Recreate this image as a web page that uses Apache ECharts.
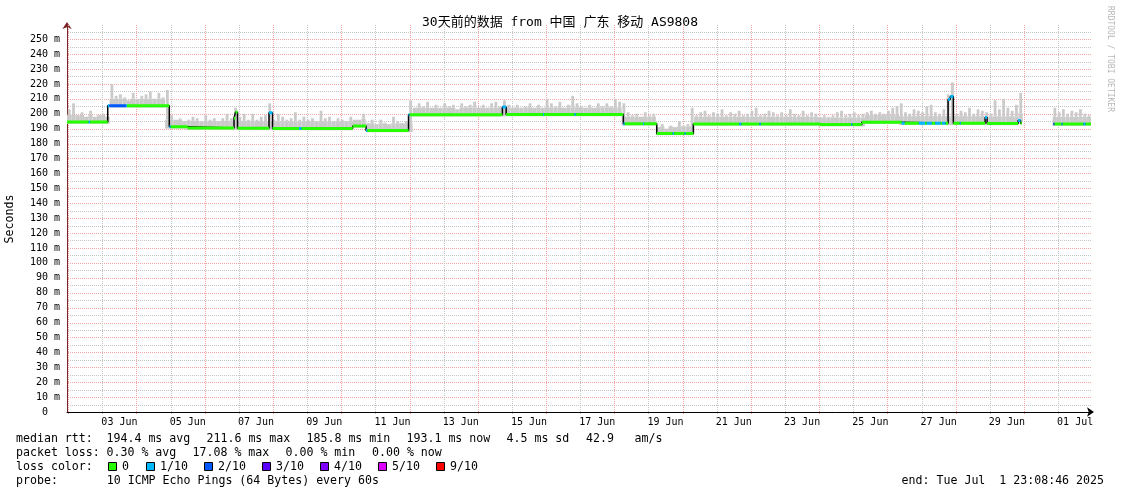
<!DOCTYPE html>
<html>
<head>
<meta charset="utf-8">
<script src="https://cdn.jsdelivr.net/npm/echarts@6/dist/echarts.min.js"></script>
<style>
html,body{margin:0;padding:0;background:#ffffff;}
#chart{width:1121px;height:494px;}
</style>
</head>
<body>
<div id="chart"></div>
<script>
// ---------- time frame (day 0 = Jun 1 00:00) ----------
const START_DAY = 0.964;   // Jun 1 23:08:46
const END_DAY = 30.964;    // Jul 1 23:08:46
const SMOKE_STEP = 0.125;  // 3 hours per smoke sample

// ---------- axis ticks / labels ----------
const minorDayTicks = [2,4,6,8,10,12,14,16,18,20,22,24,26,28,30];
const majorDayTicks = [1,3,5,7,9,11,13,15,17,19,21,23,25,27,29];
const labelDays = [2.5,4.5,6.5,8.5,10.5,12.5,14.5,16.5,18.5,20.5,22.5,24.5,26.5,28.5,30.5];
const labelTexts = ['03 Jun','05 Jun','07 Jun','09 Jun','11 Jun','13 Jun','15 Jun','17 Jun','19 Jun','21 Jun','23 Jun','25 Jun','27 Jun','29 Jun','01 Jul'];
const yMinorTicks = [5,15,25,35,45,55,65,75,85,95,105,115,125,135,145,155,165,175,185,195,205,215,225,235,245,255];
const yMajorTicks = [10,20,30,40,50,60,70,80,90,100,110,120,130,140,150,160,170,180,190,200,210,220,230,240,250];
const yLabelValues = [0,10,20,30,40,50,60,70,80,90,100,110,120,130,140,150,160,170,180,190,200,210,220,230,240,250];

// ---------- median rtt (ms), step levels starting at medT ----------
const medT = [0.964, 2.157, 3.961, 4.50, 5.857, 5.90, 5.96, 6.882, 6.985, 9.335, 9.725, 10.97, 13.72, 13.83, 17.264, 18.242, 19.314, 23.027, 24.248, 25.421, 26.777, 26.84, 26.932, 27.861, 27.92, 28.828, 28.90, 28.936, 29.862];
const medV = [194.5, 205.3, 191.2, 190.4, 197.0, 201.0, 190.2, 200.6, 190.1, 191.8, 188.8, 199.4, 204.5, 199.5, 193.3, 186.8, 193.2, 192.7, 194.3, 193.6, 209.5, 211.6, 193.6, 197.5, 193.5, 195.5, 193.6, null, 193.1];

// ---------- packet loss spans (class = lost pings out of 10) ----------
const lossStart = [1.60, 2.157, 2.204, 2.69, 3.961, 6.882, 7.76, 9.725, 10.97, 13.72, 14.91, 15.83, 17.264, 17.84, 18.71, 19.06, 20.66, 21.25, 23.94, 25.42, 25.92, 26.15, 26.40, 26.60, 26.777, 27.12, 27.861, 28.828, 29.862, 30.10, 30.74];
const lossEnd   = [1.64, 2.204, 2.69, 2.72, 4.00, 6.985, 7.83, 9.76, 11.00, 13.83, 14.94, 15.87, 17.30, 17.87, 18.75, 19.09, 20.72, 21.29, 23.97, 25.50, 26.10, 26.30, 26.55, 26.70, 26.932, 27.15, 27.92, 28.90, 29.89, 30.13, 30.80];
const lossClass = [1, 1, 2, 1, 1, 1, 1, 1, 1, 1, 1, 1, 1, 1, 1, 1, 1, 1, 1, 1, 1, 1, 1, 1, 1, 1, 1, 1, 2, 1, 1];

// ---------- smoke: highest ping per 3h sample (ms) ----------
const smokeTop = [
  203,207,199,201,198,202,198,199,200,198,
  220,212,213,211,209,214,210,212,213,215,210,214,211,216,
  199,196,197,195,196,198,197,195,199,196,197,195,197,200,197,204,
  198,200,196,200,196,198,199,207,
  196,200,198,196,197,201,196,198,196,197,195,202,197,198,195,197,196,195,198,196,
  196,200,194,196,193,196,194,193,198,195,194,195,
  209,204,207,205,208,204,206,204,207,205,206,203,207,205,206,208,204,206,204,207,208,205,209,206,204,206,204,
  205,207,204,206,204,210,207,205,208,204,206,212,207,205,204,206,204,207,205,207,205,210,208,207,
  201,199,200,198,201,199,200,
  191,193,190,192,191,195,192,193,
  204,199,201,202,199,201,200,203,199,201,200,202,199,
  200,202,204,199,200,202,201,199,201,199,203,200,199,202,199,201,200,
  198,199,198,199,201,202,199,200,201,199,
  200,201,202,200,201,200,202,204,205,207,
  201,200,203,202,201,205,206,201,200,203,213,221,
  200,202,201,204,200,203,202,201,200,209,203,210,204,202,206,214,
  null,null,null,null,null,null,null,
  204,201,203,200,202,201,203,200,199
];

// ---------- legend / footer texts ----------
const rttFields = ['median rtt:', '194.4 ms avg', '211.6 ms max', '185.8 ms min', '193.1 ms now', '4.5 ms sd', '42.9', 'am/s'];
const lossFields = ['packet loss:', '0.30 % avg', '17.08 % max', '0.00 % min', '0.00 % now'];
const lossColors = ['#26ff00','#00b8ff','#0059ff','#5e00ff','#7e00ff','#dd00ff','#ff0000'];
const lossLabels = ['0','1/10','2/10','3/10','4/10','5/10','9/10'];

const SMOKE = '#cacaca';
const MONO = '"DejaVu Sans Mono", "Noto Sans CJK SC", monospace';
const FOOT = '11.6px ' + MONO;
const GRID_GRAY = '#c6c6c6';
const GRID_PINK = '#f5a3a3';

// ---------- helpers ----------
function medAt(t){
  let v = null;
  for (let i = 0; i < medT.length; i++){ if (medT[i] <= t) v = medV[i]; else break; }
  return v;
}
function lossAt(t){
  for (let i = 0; i < lossStart.length; i++){ if (t >= lossStart[i] && t < lossEnd[i]) return lossClass[i]; }
  return 0;
}

// smoke columns
const smokeData = [];
smokeTop.forEach((top, k) => {
  if (top == null) return;
  const t0 = START_DAY + k*SMOKE_STEP, t1 = t0 + SMOKE_STEP;
  const cands = [medAt(t0), medAt(t1 - 1e-6)].filter(v => v != null);
  if (!cands.length) return;
  const low = Math.min(...cands) - 1.2;
  const band = Math.min(top, low + 6);
  smokeData.push([t0, t1, low, band, top]);
});

// black step line of the median
const blackData = [];
for (let i = 0; i < medT.length; i++){
  const t1 = i + 1 < medT.length ? medT[i+1] : END_DAY;
  if (medV[i] == null){ blackData.push([medT[i], null]); continue; }
  blackData.push([medT[i], medV[i]], [t1, medV[i]]);
}

// coloured median pieces by loss class
const bset = new Set([...medT, END_DAY, ...lossStart, ...lossEnd]);
const bounds = [...bset].filter(t => t >= START_DAY && t <= END_DAY).sort((a,b)=>a-b);
const runs = [];
let prev = null;
for (let i = 0; i < bounds.length - 1; i++){
  const a = bounds[i], b = bounds[i+1], mid = (a+b)/2;
  const v = medAt(mid);
  if (v == null){ if (prev){ runs.push(prev); prev = null; } continue; }
  const c = lossAt(mid);
  if (prev && prev.c === c && prev.v === v && prev.b === a){ prev.b = b; }
  else { if (prev) runs.push(prev); prev = {a, b, v, c}; }
}
if (prev) runs.push(prev);
const classSeries = [[],[],[]];
runs.forEach(r => { classSeries[r.c].push([r.a, r.v], [r.b, r.v], [r.b, null]); });

// vertical dotted grid lines, built from 1px dots placed through the x scale
function vGrid(days, color, name){
  return {
    type: 'custom', name, silent: true, z: 1, clip: false,
    data: days.map(d => [d, 100]), encode: { x: 0, y: 1 },
    renderItem: (params, api) => {
      const cs = params.coordSys;
      const x = Math.round(api.coord([api.value(0), 100])[0]);
      const top = Math.round(cs.y), bottom = Math.round(cs.y + cs.height) + 3;
      const children = [];
      for (let yy = top; yy < bottom; yy += 2){
        children.push({ type: 'rect', shape: { x: x, y: yy, width: 1, height: 1 }, style: { fill: color } });
      }
      return { type: 'group', children };
    }
  };
}
// horizontal dotted grid lines
function hGrid(vals, color, name){
  return {
    type: 'custom', name, silent: true, z: 1, clip: false,
    data: vals.map(v => [10, v]), encode: { x: 0, y: 1 },
    renderItem: (params, api) => {
      const cs = params.coordSys;
      const y = Math.round(api.coord([10, api.value(1)])[1]) + 0.5;
      return { type: 'line', shape: { x1: cs.x + 1, y1: y, x2: cs.x + cs.width, y2: y },
               style: { stroke: color, lineWidth: 1, lineDash: [1, 1] } };
    }
  };
}

const chart = echarts.init(document.getElementById('chart'), null, {renderer:'canvas'});

const option = {
  animation: false,
  backgroundColor: '#ffffff',
  grid: { left: 67, right: 30, top: 25, bottom: 82, containLabel: false, outerBoundsMode: 'none' },
  xAxis: {
    type: 'value', min: START_DAY, max: END_DAY, position: 'bottom',
    axisLine: { show: true, onZero: false, symbol: ['none','arrow'], symbolSize: [7,7], symbolOffset: [0, 3],
                lineStyle: { color: '#000000', width: 1 } },
    axisTick: { show: false },
    splitLine: { show: false },
    axisLabel: { show: true, customValues: labelDays, margin: 5, fontSize: 10, fontFamily: MONO, color: '#000',
                 formatter: v => labelTexts[Math.round((v - 2.5)/2)] || '' }
  },
  yAxis: {
    type: 'value', min: 0, max: 259.5, position: 'left',
    axisLine: { show: true, onZero: false, symbol: ['none','arrow'], symbolSize: [7,7], symbolOffset: [0, 3],
                lineStyle: { color: '#7a2626', width: 1 } },
    axisTick: { show: false },
    splitLine: { show: false },
    axisLabel: { show: true, customValues: yLabelValues, margin: 7, fontSize: 10, fontFamily: MONO, color: '#000',
                 formatter: v => v === 0 ? '0  ' : v + ' m' }
  },
  series: [
    hGrid(yMinorTicks, GRID_GRAY, 'hgridMinor'),
    hGrid(yMajorTicks, GRID_PINK, 'hgridMajor'),
    vGrid(minorDayTicks, GRID_GRAY, 'vgridMinor'),
    vGrid(majorDayTicks, GRID_PINK, 'vgridMajor'),
    {
      type: 'custom', name: 'smoke', silent: true, z: 2,
      data: smokeData,
      encode: { x: [0,1], y: [2,3,4] },
      renderItem: (params, api) => {
        const t0 = api.value(0), t1 = api.value(1), lo = api.value(2), bt = api.value(3), hi = api.value(4);
        const a = api.coord([t0, bt]), b = api.coord([t1, lo]);
        const w = b[0] - a[0];
        const children = [{ type: 'rect', shape: { x: a[0], y: a[1], width: w, height: b[1] - a[1] }, style: { fill: SMOKE } }];
        if (hi > bt){
          const c = api.coord([t0, hi]);
          children.push({ type: 'rect', shape: { x: a[0] + w*0.2, y: c[1], width: w*0.65, height: a[1] - c[1] }, style: { fill: SMOKE } });
        }
        return { type: 'group', children };
      }
    },
    {
      type: 'line', name: 'median', silent: true, z: 3,
      data: blackData, showSymbol: false, connectNulls: false,
      lineStyle: { color: '#000000', width: 1.5 }
    },
    ...classSeries.map((d, c) => ({
      type: 'line', name: 'loss' + c, silent: true, z: 4,
      data: d, showSymbol: false, connectNulls: false,
      lineStyle: { color: lossColors[c], width: 3, cap: 'butt' }
    }))
  ],
  graphic: [
    { type: 'text', x: 560, y: 23, style: { text: '30天前的数据 from 中国 广东 移动 AS9808', font: '13px ' + MONO, fill: '#000', align: 'center', verticalAlign: 'middle' } },
    { type: 'text', x: 10, y: 219, rotation: Math.PI/2, style: { text: 'Seconds', font: FOOT, fill: '#000', align: 'center', verticalAlign: 'middle' } },
    { type: 'text', x: 1110.5, y: 59, rotation: -Math.PI/2, style: { text: 'RRDTOOL / TOBI OETIKER', font: '8px ' + MONO, fill: '#b8b8b8', align: 'center', verticalAlign: 'middle' } },
    { type: 'text', x: 16, y: 467, style: { text: 'loss color:', font: FOOT, fill: '#000', align: 'left', verticalAlign: 'middle' } },
    { type: 'text', x: 16, y: 481, style: { text: 'probe:       10 ICMP Echo Pings (64 Bytes) every 60s', font: FOOT, fill: '#000', align: 'left', verticalAlign: 'middle' } },
    { type: 'text', x: 1104, y: 481, style: { text: 'end: Tue Jul  1 23:08:46 2025', font: FOOT, fill: '#000', align: 'right', verticalAlign: 'middle' } }
  ]
};

// footer fields positioned like the rrdtool legend
const rttX = [16, 106.5, 206.5, 306.5, 406.5, 506.5, 586, 634.5];
rttFields.forEach((t, i) => option.graphic.push({ type: 'text', x: rttX[i], y: 439, style: { text: t, font: FOOT, fill: '#000', align: 'left', verticalAlign: 'middle' } }));
const lossX = [16, 106.5, 192.5, 285.5, 372];
lossFields.forEach((t, i) => option.graphic.push({ type: 'text', x: lossX[i], y: 453, style: { text: t, font: FOOT, fill: '#000', align: 'left', verticalAlign: 'middle' } }));

// legend boxes for loss colours
const boxX = [108, 146, 204, 262, 320, 378, 436];
const textX = [122, 160, 218, 276, 334, 392, 450];
lossColors.forEach((col, i) => {
  option.graphic.push({ type: 'rect', shape: { x: boxX[i] + 0.5, y: 462.5, width: 8, height: 8 }, style: { fill: col, stroke: '#000', lineWidth: 1 } });
  option.graphic.push({ type: 'text', x: textX[i], y: 467, style: { text: lossLabels[i], font: FOOT, fill: '#000', align: 'left', verticalAlign: 'middle' } });
});

chart.setOption(option);
</script>
</body>
</html>
